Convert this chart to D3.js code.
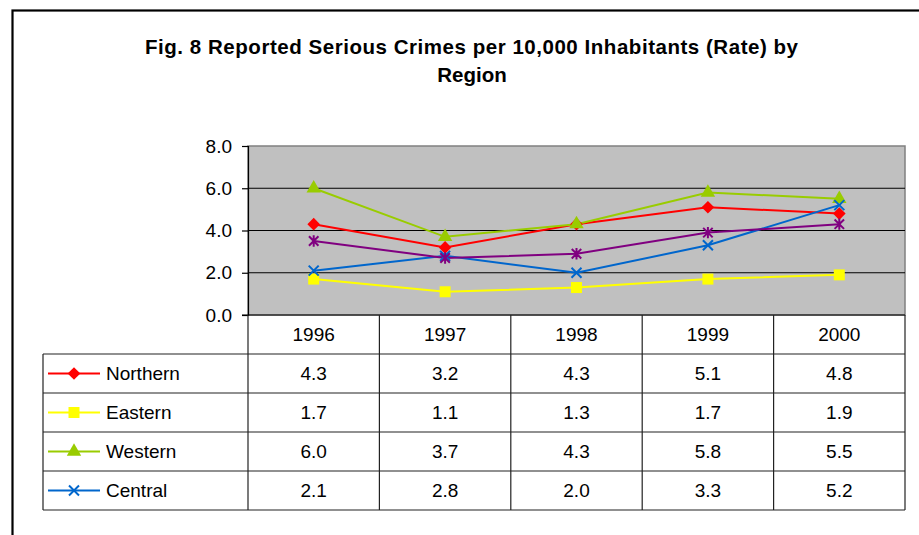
<!DOCTYPE html>
<html>
<head>
<meta charset="utf-8">
<script src="https://cdn.jsdelivr.net/npm/d3@7"></script>
<style>
  body { margin: 0; background: #fff; }
  text { font-family: Arial, "Liberation Sans", sans-serif; fill: #000; }
</style>
</head>
<body>
<script>
//Data
    const years = ["1996", "1997", "1998", "1999", "2000"];
    const northern = [4.3, 3.2, 4.3, 5.1, 4.8];
    const eastern = [1.7, 1.1, 1.3, 1.7, 1.9];
    const western = [6.0, 3.7, 4.3, 5.8, 5.5];
    const central = [2.1, 2.8, 2.0, 3.3, 5.2];
    const other = [3.5, 2.7, 2.9, 3.9, 4.3];   // purple line, not listed in the table
    const yTicks = [0, 2, 4, 6, 8];

//Layout
    const width = 919, height = 535;
    const plotLeft = 248, plotRight = 905, plotTop = 146, plotBottom = 315;
    const rowH = 39;
    const tableLeft = 43;

//Custom markers
    const symbolX = {
        draw(ctx, size) {
            const r = Math.sqrt(size) / 2;
            ctx.moveTo(-r, -r); ctx.lineTo(r, r);
            ctx.moveTo(r, -r); ctx.lineTo(-r, r);
        }
    };
    const symbolStar = {
        draw(ctx, size) {
            const r = Math.sqrt(size) / 2;
            ctx.moveTo(-r, -r); ctx.lineTo(r, r);
            ctx.moveTo(r, -r); ctx.lineTo(-r, r);
            ctx.moveTo(0, -r * 1.2); ctx.lineTo(0, r * 1.2);
        }
    };
    const symbolRhomb = {
        draw(ctx, size) {
            const r = Math.sqrt(size) / 2;
            ctx.moveTo(0, -r); ctx.lineTo(r, 0);
            ctx.lineTo(0, r); ctx.lineTo(-r, 0);
            ctx.closePath();
        }
    };

    const series = [
        {name: "Northern", values: northern, color: "#FF0000", symbol: symbolRhomb, size: 160, filled: true, inTable: true},
        {name: "Eastern", values: eastern, color: "#FFFF00", symbol: d3.symbolSquare, size: 121, filled: true, inTable: true},
        {name: "Western", values: western, color: "#99CC00", symbol: d3.symbolTriangle, size: 90, filled: true, inTable: true},
        {name: "Central", values: central, color: "#0066CC", symbol: symbolX, size: 100, filled: false, inTable: true},
        {name: "Other", values: other, color: "#800080", symbol: symbolStar, size: 90, filled: false, inTable: false}
    ];

//Scales
    const xScale = d3.scaleBand()
        .domain(years)
        .range([plotLeft, plotRight]);

    const yScale = d3.scaleLinear()
        .domain([0, 8])
        .range([plotBottom, plotTop]);

//SVG
    const svg = d3.select("body")
        .append("svg")
        .attr("width", width)
        .attr("height", height);

    // outer chart frame (runs past the photo edge)
    svg.append("rect")
        .attr("x", 12.5).attr("y", 10.5)
        .attr("width", 940).attr("height", 560)
        .attr("fill", "none")
        .attr("stroke", "#000")
        .attr("stroke-width", 2.2);

//Title
    svg.append("text")
        .attr("x", 471.5).attr("y", 54)
        .attr("text-anchor", "middle")
        .attr("font-size", 20.5)
        .attr("font-weight", "bold")
        .attr("textLength", 653)
        .attr("lengthAdjust", "spacing")
        .text("Fig. 8  Reported Serious Crimes per 10,000 Inhabitants (Rate) by");

    svg.append("text")
        .attr("x", 472).attr("y", 82)
        .attr("text-anchor", "middle")
        .attr("font-size", 20.5)
        .attr("font-weight", "bold")
        .text("Region");

//Plot area
    svg.append("rect")
        .attr("x", plotLeft).attr("y", plotTop)
        .attr("width", plotRight - plotLeft)
        .attr("height", plotBottom - plotTop)
        .attr("fill", "#C0C0C0")
        .attr("stroke", "#808080")
        .attr("stroke-width", 1.5);

    svg.selectAll("line.grid")
        .data(yTicks.filter(d => d > 0 && d < 8))
        .enter()
        .append("line")
        .attr("x1", plotLeft).attr("x2", plotRight)
        .attr("y1", d => yScale(d)).attr("y2", d => yScale(d))
        .attr("stroke", "#000")
        .attr("stroke-width", 1.2);

//Y axis
    const leftAxis = d3.axisLeft(yScale)
        .tickValues(yTicks)
        .tickFormat(d3.format(".1f"))
        .tickSize(6)
        .tickPadding(10);

    const yAxisG = svg.append("g")
        .attr("transform", "translate(" + plotLeft + ",0)")
        .call(leftAxis);
    yAxisG.select(".domain").attr("stroke", "#000").attr("stroke-width", 1.2);
    yAxisG.selectAll(".tick line").attr("stroke", "#000").attr("stroke-width", 1.2);
    yAxisG.selectAll(".tick text")
        .attr("font-size", 19)
        .attr("font-family", "Arial, 'Liberation Sans', sans-serif")
        .attr("fill", "#000");

    svg.append("line")
        .attr("x1", plotLeft - 6).attr("x2", plotRight)
        .attr("y1", plotBottom).attr("y2", plotBottom)
        .attr("stroke", "#000").attr("stroke-width", 1.2);

//Lines and markers
    const line = d3.line()
        .x((d, i) => xScale(years[i]) + xScale.bandwidth() / 2)
        .y(d => yScale(d));

    series.forEach(s => {
        svg.append("path")
            .datum(s.values)
            .attr("d", line)
            .attr("fill", "none")
            .attr("stroke", s.color)
            .attr("stroke-width", 2);
    });

    series.forEach(s => {
        svg.selectAll(null)
            .data(s.values)
            .enter()
            .append("path")
            .attr("transform", (d, i) => "translate(" + (xScale(years[i]) + xScale.bandwidth() / 2) + "," + yScale(d) + ")")
            .attr("d", d3.symbol().type(s.symbol).size(s.size))
            .attr("fill", s.filled ? s.color : "none")
            .attr("stroke", s.filled ? "none" : s.color)
            .attr("stroke-width", 2);
    });

//Data table
    const tableSeries = series.filter(s => s.inTable);
    const tableBottom = plotBottom + rowH * (tableSeries.length + 1);

    // header row with years
    const header = svg.append("g");
    years.forEach(y => {
        header.append("text")
            .attr("x", xScale(y) + xScale.bandwidth() / 2)
            .attr("y", plotBottom + rowH / 2)
            .attr("dy", "0.36em")
            .attr("text-anchor", "middle")
            .attr("font-size", 19)
            .text(y);
    });

    // vertical lines
    xScale.domain().concat(["end"]).forEach((y, i) => {
        const x = i < years.length ? xScale(y) : plotRight;
        svg.append("line")
            .attr("x1", x).attr("x2", x)
            .attr("y1", plotBottom).attr("y2", tableBottom)
            .attr("stroke", "#222").attr("stroke-width", 1.2);
    });
    svg.append("line")
        .attr("x1", tableLeft).attr("x2", tableLeft)
        .attr("y1", plotBottom + rowH).attr("y2", tableBottom)
        .attr("stroke", "#222").attr("stroke-width", 1.2);

    // horizontal lines
    d3.range(1, tableSeries.length + 2).forEach(r => {
        svg.append("line")
            .attr("x1", tableLeft).attr("x2", plotRight)
            .attr("y1", plotBottom + r * rowH).attr("y2", plotBottom + r * rowH)
            .attr("stroke", "#222").attr("stroke-width", 1.2);
    });

    // rows
    tableSeries.forEach((s, r) => {
        const cy = plotBottom + rowH * (r + 1) + rowH / 2;
        const g = svg.append("g");

        g.append("line")
            .attr("x1", 48).attr("x2", 100)
            .attr("y1", cy).attr("y2", cy)
            .attr("stroke", s.color).attr("stroke-width", 2);
        g.append("path")
            .attr("transform", "translate(74," + cy + ")")
            .attr("d", d3.symbol().type(s.symbol).size(s.size))
            .attr("fill", s.filled ? s.color : "none")
            .attr("stroke", s.filled ? "none" : s.color)
            .attr("stroke-width", 2);
        g.append("text")
            .attr("x", 106).attr("y", cy)
            .attr("dy", "0.36em")
            .attr("font-size", 19)
            .text(s.name);

        s.values.forEach((v, i) => {
            g.append("text")
                .attr("x", xScale(years[i]) + xScale.bandwidth() / 2)
                .attr("y", cy)
                .attr("dy", "0.36em")
                .attr("text-anchor", "middle")
                .attr("font-size", 19)
                .text(d3.format(".1f")(v));
        });
    });
</script>
</body>
</html>
